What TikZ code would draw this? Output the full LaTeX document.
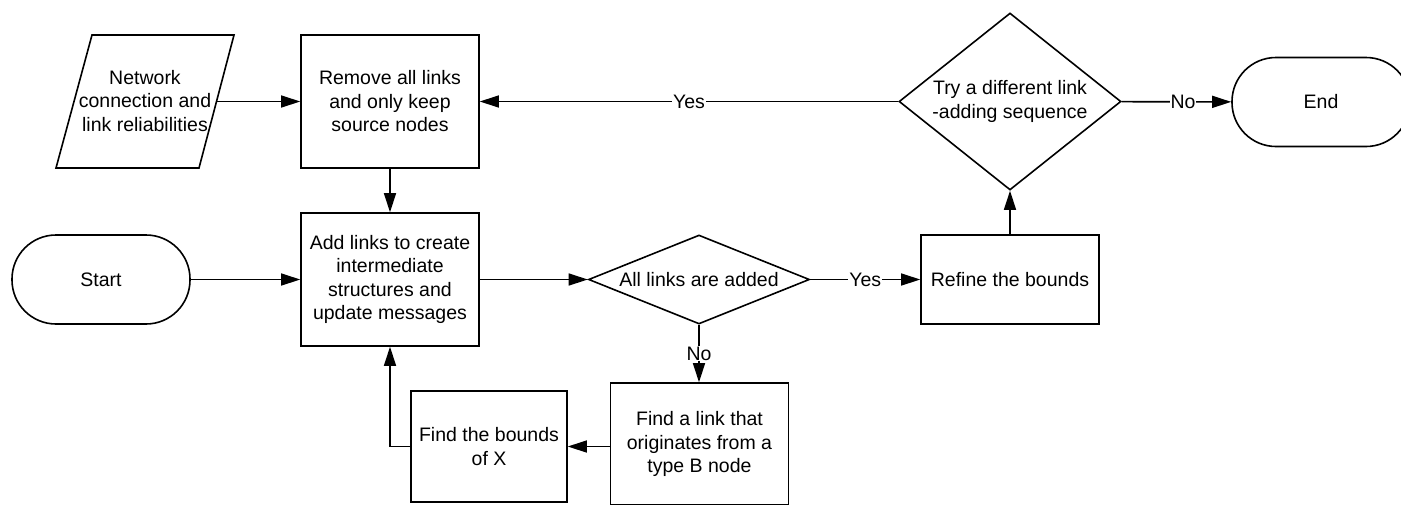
\documentclass[tikz,border=0pt]{standalone}
\usepackage{fontspec}
\setmainfont{Liberation Sans}
\usetikzlibrary{arrows.meta, shapes.geometric}

\begin{document}
\begin{tikzpicture}[x=1pt, y=-1pt, line width=1.6pt,
    font=\fontsize{19.5}{23.5}\selectfont,
    proc/.style={draw, rectangle, align=center, inner sep=0pt},
    term/.style={draw, rectangle, rounded corners=44pt, minimum width=178pt, minimum height=89pt},
    dec/.style={draw, diamond, align=center, inner sep=0pt},
    lbl/.style={fill=white, inner sep=1pt},
    >={Triangle[length=19pt, width=12pt]}]

    \useasboundingbox (0,0) rectangle (1401,504);

    % Dati in ingresso
    \draw (92,35) -- (234,35) -- (199,168) -- (56,168) -- cycle;
    \node[align=center] (data) at (145,101) {Network\\connection and\\link reliabilities};
    \coordinate (dataout) at (216,101.5);

    % Blocchi
    \node[proc, minimum width=178pt, minimum height=133pt] (remove) at (390,101.5) {Remove all links\\and only keep\\source nodes};
    \node[proc, minimum width=178pt, minimum height=133pt] (add) at (390,279.5) {Add links to create\\intermediate\\structures and\\update messages};
    \node[term] (start) at (101,279.5) {Start};
    \node[dec, aspect=2.6, minimum width=221pt, minimum height=89pt] (alladded) at (699,279.5) {All links are added};
    \node[proc, minimum width=178pt, minimum height=89pt] (refine) at (1010,279.5) {Refine the bounds};
    \node[dec, aspect=1.3, minimum width=222pt, minimum height=177pt] (retry) at (1010,101.5) {Try a different link\\-adding sequence};
    \node[term] (end) at (1321,102) {End};
    \node[proc, minimum width=178pt, minimum height=122pt] (findlink) at (699.5,444) {Find a link that\\originates from a\\type B node};
    \node[proc, minimum width=156pt, minimum height=111pt] (findbounds) at (489,446.5) {Find the bounds\\of X};

    % Collegamenti
    \draw[->] (dataout) -- (remove.west);
    \draw[->] (retry) -- node[lbl]{Yes} (remove);
    \draw[->] (remove) -- (add);
    \draw[->] (start) -- (add);
    \draw[->] (add) -- (alladded);
    \draw[->] (alladded) -- node[lbl]{Yes} (refine);
    \draw[->] (refine) -- (retry);
    \draw[->] (retry) -- node[lbl, pos=0.56]{No} (end);
    \draw[->] (alladded.south) -- node[lbl]{No} (alladded.south |- findlink.north);
    \draw[->] (findbounds.east -| findlink.west) -- (findbounds.east);
    \draw[->] (findbounds.west) -| (add.south);
\end{tikzpicture}
\end{document}
